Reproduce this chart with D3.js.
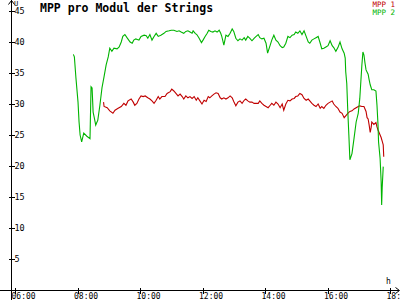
<!DOCTYPE html>
<html><head><meta charset="utf-8">
<script src="https://cdn.jsdelivr.net/npm/d3@7"></script>
<style>
html,body{margin:0;padding:0;background:#fff;}
svg{display:block;}
text{font-family:"DejaVu Sans Mono",monospace;}
</style></head>
<body><svg id="c" width="400" height="300"></svg>
<script>
const title = "MPP pro Modul der Strings";
const seriesNames = ["MPP 1", "MPP 2"];
const xTickLabels = ["06:00","08:00","10:00","12:00","14:00","16:00","18:00"];
const yTickValues = [5,10,15,20,25,30,35,40,45];

const mpp1Times = ["08:50","08:51","08:57","09:02","09:08","09:12","09:18","09:24","09:29","09:33","09:37","09:43","09:47","09:50","09:54","09:58","10:02","10:06","10:10","10:15","10:19","10:23","10:27","10:31","10:35","10:38","10:42","10:48","10:52","10:58","11:01","11:05","11:09","11:13","11:17","11:21","11:24","11:28","11:32","11:36","11:40","11:44","11:48","11:51","11:55","11:59","12:03","12:07","12:11","12:14","12:18","12:22","12:26","12:30","12:34","12:37","12:41","12:45","12:49","12:53","12:57","13:00","13:04","13:08","13:12","13:16","13:20","13:23","13:27","13:31","13:35","13:39","13:43","13:47","13:50","13:54","13:58","14:02","14:06","14:10","14:13","14:17","14:21","14:25","14:29","14:33","14:36","14:40","14:44","14:48","14:52","14:56","14:59","15:03","15:07","15:11","15:15","15:19","15:23","15:26","15:30","15:34","15:38","15:42","15:46","15:49","15:53","15:57","16:01","16:05","16:09","16:12","16:16","16:20","16:24","16:28","16:32","16:35","16:39","16:43","16:47","16:51","16:55","16:59","17:02","17:06","17:10","17:14","17:16","17:18","17:20","17:22","17:24","17:25","17:29","17:33","17:35","17:37","17:41","17:43","17:45","17:47","17:48"];
const mpp1Values = [30.3,29.6,29.4,28.9,28.5,29.0,29.3,29.6,30.1,29.8,30.5,30.8,30.3,29.8,30.1,30.8,31.3,31.2,31.3,31.0,30.8,30.5,30.1,30.6,31.2,30.8,31.2,31.2,31.7,32.0,32.4,32.1,31.7,31.3,31.6,31.2,30.8,31.3,31.0,31.2,30.9,31.2,30.6,31.0,30.5,30.0,30.6,30.4,31.2,31.0,31.3,31.6,31.8,31.7,31.0,30.8,31.0,30.8,31.0,31.3,31.0,30.4,29.7,30.3,30.5,30.1,30.6,30.8,30.5,30.3,30.3,30.1,30.1,30.1,30.5,30.1,29.8,29.6,29.4,29.8,30.1,29.8,30.3,30.0,29.4,30.0,29.0,30.0,30.6,30.5,30.8,30.9,31.2,31.3,31.7,31.5,30.9,30.6,30.8,30.5,30.1,29.8,29.6,30.0,29.3,29.6,29.3,29.8,30.1,30.3,30.5,30.0,29.6,29.3,28.7,28.5,27.8,28.1,28.5,28.8,28.9,29.2,29.4,29.6,29.7,29.6,29.6,28.8,27.8,27.6,26.6,25.4,26.3,27.1,26.7,27.0,26.3,25.8,25.0,24.6,24.0,23.4,21.5];

const mpp2Times = ["07:52","07:54","07:57","08:01","08:03","08:05","08:08","08:12","08:18","08:24","08:26","08:28","08:30","08:32","08:35","08:39","08:43","08:47","08:51","08:55","08:59","09:02","09:06","09:10","09:16","09:20","09:24","09:27","09:31","09:35","09:41","09:45","09:48","09:52","09:58","10:02","10:08","10:12","10:15","10:19","10:23","10:27","10:31","10:35","10:40","10:46","10:50","10:56","11:00","11:05","11:11","11:15","11:19","11:24","11:28","11:32","11:36","11:40","11:42","11:46","11:49","11:53","11:58","12:01","12:05","12:09","12:12","12:16","12:20","12:24","12:28","12:32","12:35","12:37","12:41","12:43","12:45","12:49","12:53","12:57","13:00","13:04","13:08","13:12","13:16","13:20","13:23","13:27","13:31","13:35","13:39","13:43","13:47","13:50","13:54","13:58","14:02","14:05","14:10","14:13","14:17","14:21","14:25","14:29","14:33","14:36","14:40","14:44","14:48","14:52","14:56","14:59","15:03","15:07","15:11","15:15","15:19","15:23","15:26","15:30","15:34","15:38","15:42","15:46","15:49","15:53","15:57","16:01","16:05","16:09","16:12","16:16","16:20","16:24","16:28","16:32","16:34","16:35","16:37","16:39","16:41","16:43","16:47","16:51","16:55","16:59","17:02","17:04","17:06","17:08","17:10","17:12","17:14","17:18","17:20","17:22","17:25","17:29","17:33","17:35","17:37","17:38","17:41","17:43","17:44","17:45","17:47"];
const mpp2Values = [38.0,37.6,34.2,30.3,27.1,25.0,23.9,25.3,24.8,24.4,32.8,32.6,28.7,27.9,26.6,27.4,29.8,32.6,34.4,36.3,37.6,39.0,38.5,39.0,38.9,39.2,40.0,40.9,41.2,40.7,40.0,39.8,40.3,40.5,40.3,40.9,41.1,41.0,40.6,41.2,40.3,40.9,41.4,40.9,41.1,41.4,41.7,41.8,41.9,41.9,41.7,41.8,41.6,41.4,41.7,41.8,41.6,41.4,41.8,41.4,41.2,40.7,39.9,40.3,40.9,41.4,41.9,41.7,41.6,41.8,41.6,41.9,41.4,40.9,39.5,40.3,41.1,40.9,41.4,42.1,41.7,40.6,40.2,40.5,40.3,40.7,40.3,40.9,40.6,40.2,40.6,40.9,41.2,40.7,40.5,40.6,39.8,38.2,39.5,40.3,41.1,40.3,40.0,39.4,39.1,39.2,39.8,40.9,40.7,41.1,41.2,41.6,41.4,41.8,41.2,41.8,40.9,40.0,39.8,40.3,40.5,40.7,40.9,39.8,38.9,39.0,39.2,39.4,40.2,39.4,39.1,38.5,39.1,40.0,38.9,38.2,37.4,35.2,33.3,28.8,25.0,21.0,22.0,24.5,27.1,28.5,30.9,33.6,36.3,38.4,37.9,36.6,35.5,34.8,33.9,33.1,32.3,32.3,32.1,29.8,26.6,23.9,21.2,17.5,13.7,16.5,19.9];

const colors = ["#c00000", "#00b400"];

function toHours(s){ const [h,m] = s.split(":").map(Number); return h + m/60; }

const svg = d3.select("#c");
svg.append("rect").attr("width",400).attr("height",300).attr("fill","#fff");

const x = d3.scaleLinear().domain([6,18]).range([15,390]);
const y = d3.scaleLinear().domain([0,45]).range([290,11]);

const series = [
  {name: seriesNames[0], data: mpp1Times.map((t,i)=>({t:toHours(t), v:mpp1Values[i]})), color: colors[0]},
  {name: seriesNames[1], data: mpp2Times.map((t,i)=>({t:toHours(t), v:mpp2Values[i]})), color: colors[1]}
];

// axes lines
const ax = svg.append("g").attr("stroke","#000").attr("stroke-width",1).attr("shape-rendering","crispEdges").attr("fill","none");
ax.append("line").attr("x1",11.5).attr("x2",11.5).attr("y1",0).attr("y2",300);
ax.append("line").attr("x1",0).attr("x2",399).attr("y1",290.5).attr("y2",290.5);
svg.append("path").attr("d","M8.5,4.5L11.5,0.5L14.5,4.5").attr("stroke","#000").attr("fill","none");
svg.append("path").attr("d","M395.5,287.5L399.5,290.5L395.5,293.5").attr("stroke","#000").attr("fill","none");

// y axis
const yAxis = d3.axisRight(y).tickValues(yTickValues).tickSize(3).tickFormat(d3.format("d"));
const gy = svg.append("g").attr("transform","translate(11.5,0)").call(yAxis);
gy.select(".domain").remove();
gy.selectAll(".tick line").attr("x1",-3).attr("stroke","#000").attr("shape-rendering","crispEdges");
gy.selectAll(".tick text").attr("x",3).attr("font-size","8.5px").attr("font-family","DejaVu Sans Mono").attr("fill","#000").attr("dy","0.35em");

// x axis
const xAxis = d3.axisBottom(x).tickValues(d3.range(6,19,2)).tickSize(3).tickFormat((d,i)=>xTickLabels[i]);
const gx = svg.append("g").attr("transform","translate(0,290.5)").call(xAxis);
gx.select(".domain").remove();
gx.selectAll(".tick line").attr("y1",-3).attr("stroke","#000").attr("shape-rendering","crispEdges");
gx.selectAll(".tick text").attr("y",8.5).attr("dy",0).attr("x",-4).attr("text-anchor","start").attr("font-size","8px").attr("font-family","DejaVu Sans Mono").attr("fill","#000");

// unit labels
svg.append("text").attr("x",14).attr("y",6).attr("font-size","7px").text("U");
svg.append("text").attr("x",386).attr("y",284).attr("font-size","8px").text("h");

// lines
const line = d3.line().x(d=>x(d.t)).y(d=>y(d.v));
svg.append("g").selectAll("path").data(series).join("path")
  .attr("d", d=>line(d.data)).attr("fill","none").attr("stroke", d=>d.color).attr("stroke-width",1.1);

// title
svg.append("text").attr("x",40).attr("y",11.5).attr("font-size","11.5px").attr("font-weight","bold").text(title);

// legend
svg.append("g").selectAll("text").data(series).join("text")
  .attr("x",395).attr("y",(d,i)=>7+i*7.5).attr("text-anchor","end").attr("font-size","7.5px").attr("fill",d=>d.color).text(d=>d.name);
</script></body></html>
